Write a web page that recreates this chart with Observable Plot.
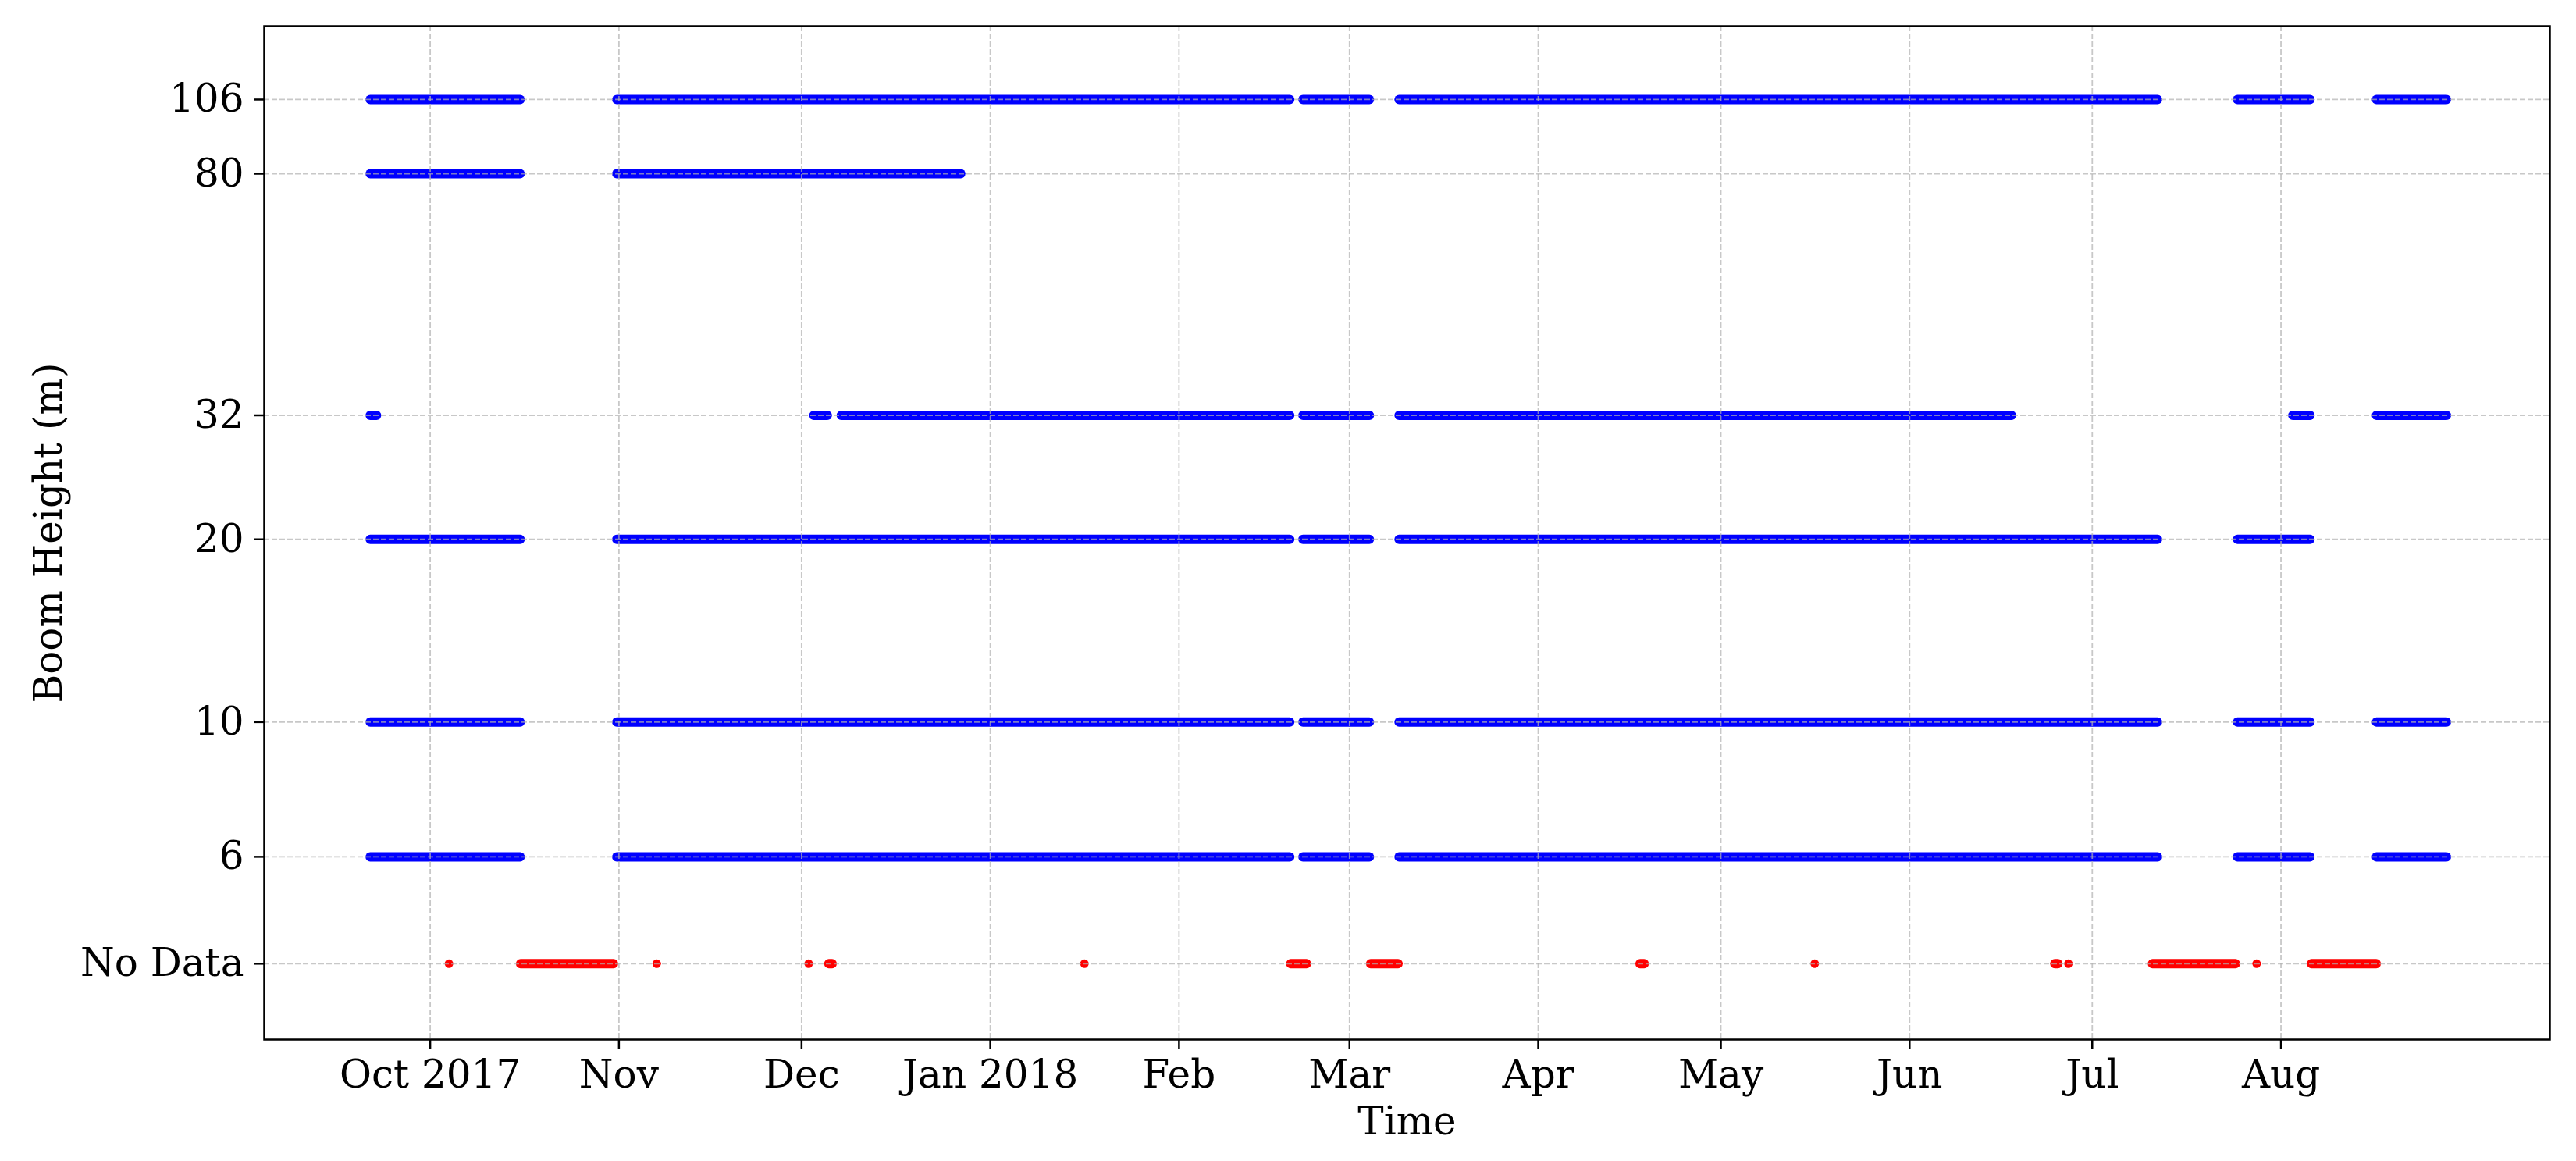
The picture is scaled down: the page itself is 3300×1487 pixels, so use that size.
<!DOCTYPE html>
<html>
<head>
<meta charset="utf-8">
<script src="https://cdn.jsdelivr.net/npm/d3@7"></script>
<script src="https://cdn.jsdelivr.net/npm/@observablehq/plot@0.6"></script>
<style>
  html, body { margin: 0; padding: 0; background: #ffffff; }
  #chart { width: 3300px; height: 1487px; }
</style>
</head>
<body>
<div id="chart"></div>
<script>
// ---- Data ----
const yTickValues = [4, 6, 10, 20, 32, 80, 106];
const yTickLabels = ["No Data", "6", "10", "20", "32", "80", "106"];
const noDataLevel = 4;

const xTickDates = ["2017-10-01", "2017-11-01", "2017-12-01", "2018-01-01", "2018-02-01", "2018-03-01",
                    "2018-04-01", "2018-05-01", "2018-06-01", "2018-07-01", "2018-08-01"];
const xTickLabels = ["Oct 2017", "Nov", "Dec", "Jan 2018", "Feb", "Mar", "Apr", "May", "Jun", "Jul", "Aug"];
const xDomain = ["2017-09-03T17:45Z", "2018-09-14T04:00Z"];

// Periods with data, per boom height [start, end]
const seg106 = [
  ["2017-09-21T05:00Z", "2017-10-15T20:00Z"],
  ["2017-10-31T17:00Z", "2018-02-19T06:00Z"],
  ["2018-02-21T10:00Z", "2018-03-04T08:00Z"],
  ["2018-03-09T05:00Z", "2018-07-11T19:00Z"],
  ["2018-07-24T22:00Z", "2018-08-05T20:00Z"],
  ["2018-08-16T18:00Z", "2018-08-28T06:00Z"]
];
const seg80 = [
  ["2017-09-21T05:00Z", "2017-10-15T20:00Z"],
  ["2017-10-31T17:00Z", "2017-12-27T05:00Z"]
];
const seg32 = [
  ["2017-09-21T05:00Z", "2017-09-22T06:00Z"],
  ["2017-12-03T02:00Z", "2017-12-05T07:00Z"],
  ["2017-12-07T14:00Z", "2018-02-19T06:00Z"],
  ["2018-02-21T10:00Z", "2018-03-04T08:00Z"],
  ["2018-03-09T05:00Z", "2018-06-17T19:00Z"],
  ["2018-08-03T00:00Z", "2018-08-05T20:00Z"],
  ["2018-08-16T18:00Z", "2018-08-28T06:00Z"]
];
const seg20 = [
  ["2017-09-21T05:00Z", "2017-10-15T20:00Z"],
  ["2017-10-31T17:00Z", "2018-02-19T06:00Z"],
  ["2018-02-21T10:00Z", "2018-03-04T08:00Z"],
  ["2018-03-09T05:00Z", "2018-07-11T19:00Z"],
  ["2018-07-24T22:00Z", "2018-08-05T20:00Z"]
];
const seg10 = [
  ["2017-09-21T05:00Z", "2017-10-15T20:00Z"],
  ["2017-10-31T17:00Z", "2018-02-19T06:00Z"],
  ["2018-02-21T10:00Z", "2018-03-04T08:00Z"],
  ["2018-03-09T05:00Z", "2018-07-11T19:00Z"],
  ["2018-07-24T22:00Z", "2018-08-05T20:00Z"],
  ["2018-08-16T18:00Z", "2018-08-28T06:00Z"]
];
const seg6 = [
  ["2017-09-21T05:00Z", "2017-10-15T20:00Z"],
  ["2017-10-31T17:00Z", "2018-02-19T06:00Z"],
  ["2018-02-21T10:00Z", "2018-03-04T08:00Z"],
  ["2018-03-09T05:00Z", "2018-07-11T19:00Z"],
  ["2018-07-24T22:00Z", "2018-08-05T20:00Z"],
  ["2018-08-16T18:00Z", "2018-08-28T06:00Z"]
];

// "No Data" periods and isolated instants
const noDataSeg = [
  ["2017-10-15T22:00Z", "2017-10-31T04:00Z"],
  ["2017-12-05T13:00Z", "2017-12-06T02:00Z"],
  ["2018-02-19T10:00Z", "2018-02-22T00:00Z"],
  ["2018-03-04T13:00Z", "2018-03-09T01:00Z"],
  ["2018-04-17T19:00Z", "2018-04-18T11:00Z"],
  ["2018-06-24T22:00Z", "2018-06-25T10:00Z"],
  ["2018-07-10T23:00Z", "2018-07-24T14:00Z"],
  ["2018-08-06T02:00Z", "2018-08-16T17:00Z"]
];
const noDataPts = [
  "2017-10-04T02:00Z", "2017-11-07T05:00Z", "2017-12-02T04:00Z", "2018-01-16T11:00Z",
  "2018-05-16T10:00Z", "2018-06-27T02:00Z", "2018-07-28T00:00Z"
];

// ---- Build tables ----
const bySeries = [[106, seg106], [80, seg80], [32, seg32], [20, seg20], [10, seg10], [6, seg6]];
const dataRows = bySeries.flatMap(([h, segs]) =>
  segs.map(([a, b]) => ({h, start: new Date(a), end: new Date(b)})));
const noDataRows = noDataSeg.map(([a, b]) => ({h: noDataLevel, start: new Date(a), end: new Date(b)}));
const noDataPointRows = noDataPts.map(t => ({h: noDataLevel, t: new Date(t)}));
const yTickRows = yTickValues.map((v, i) => ({v, label: yTickLabels[i]}));

const xTicks = xTickDates.map(d => new Date(d + "T00:00:00Z"));
const xLabelMap = new Map(xTicks.map((d, i) => [+d, xTickLabels[i]]));

const gridStyle = {stroke: "#b0b0b0", strokeOpacity: 0.7, strokeDasharray: "7,3", strokeWidth: 1.8};

const chart = Plot.plot({
  width: 3300,
  height: 1487,
  marginLeft: 338,
  marginRight: 34,
  marginTop: 33,
  marginBottom: 156,
  style: {fontFamily: "'DejaVu Serif', serif", fontSize: "50px", background: "#ffffff", color: "#000000"},
  x: {type: "utc", domain: xDomain.map(d => new Date(d))},
  y: {type: "log", domain: [3, 140]},
  marks: [
    Plot.ruleY(dataRows, {y: "h", x1: "start", x2: "end", stroke: "#0000ff", strokeWidth: 12, strokeLinecap: "round"}),
    Plot.ruleY(noDataRows, {y: "h", x1: "start", x2: "end", stroke: "#ff0000", strokeWidth: 12, strokeLinecap: "round"}),
    Plot.dot(noDataPointRows, {x: "t", y: "h", r: 5.5, fill: "#ff0000", stroke: null}),
    Plot.gridY({ticks: yTickValues, ...gridStyle}),
    Plot.gridX({ticks: xTicks, ...gridStyle}),
    Plot.frame({stroke: "#000000", strokeWidth: 2.5}),
    Plot.axisX({ticks: xTicks, tickFormat: d => xLabelMap.get(+d), tickSize: 12, tickPadding: 14,
                strokeWidth: 2.5, label: null, fontSize: 50}),
    Plot.axisY({ticks: yTickValues, tickFormat: () => "", tickSize: 12, tickPadding: 14,
                strokeWidth: 2.5, label: null}),
    Plot.text(yTickRows, {y: "v", text: "label", frameAnchor: "left", textAnchor: "end",
                          lineAnchor: "middle", dx: -26, fontSize: 50}),
    Plot.text(["Time"], {frameAnchor: "bottom", text: d => d, dy: 121, lineAnchor: "bottom",
                         textAnchor: "middle", fontSize: 50}),
    Plot.text(["Boom Height (m)"], {frameAnchor: "left", text: d => d, rotate: -90, dx: -260,
                                    lineAnchor: "bottom", textAnchor: "middle", fontSize: 50})
  ]
});
document.getElementById("chart").appendChild(chart);
</script>
</body>
</html>
